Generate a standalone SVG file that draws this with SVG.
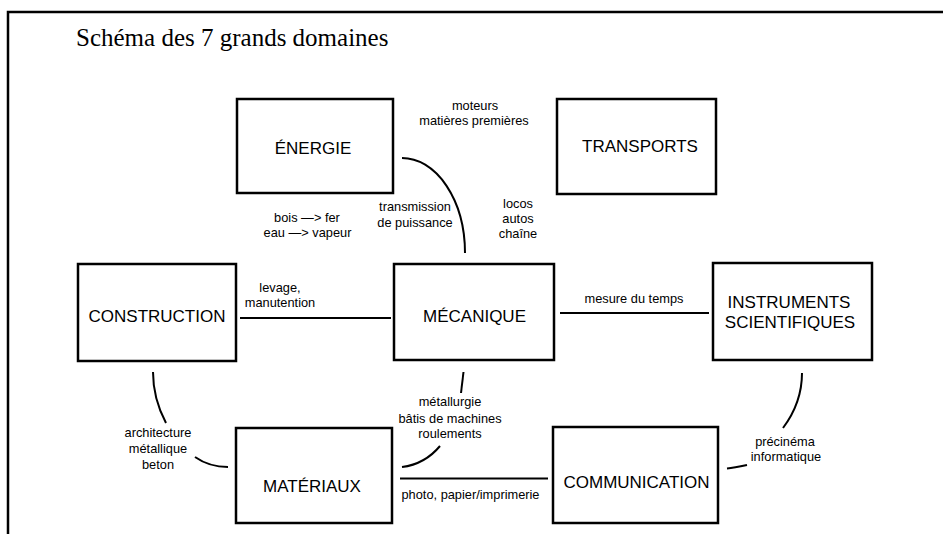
<svg xmlns="http://www.w3.org/2000/svg" width="943" height="534" viewBox="0 0 943 534">
<style>
.box{fill:#fff;stroke:#000;stroke-width:2.5}
.bl{font-family:"Liberation Sans",Arial,sans-serif;font-size:17px;text-anchor:middle;fill:#000}
.lb{font-family:"Liberation Sans",Arial,sans-serif;font-size:12.8px;text-anchor:middle;fill:#000}
.cn{fill:none;stroke:#000;stroke-width:2}
</style>
<rect width="943" height="534" fill="#fff"/>
<path d="M943,12 H8 V534" fill="none" stroke="#000" stroke-width="2.5"/>
<text x="76" y="46" font-family="'Liberation Serif','Times New Roman',serif" font-size="25">Schéma  des 7 grands domaines</text>
<g id="connectors">
<path class="cn" d="M402,158 A63,95 0 0 1 465,253"/>
<path class="cn" d="M240,318 H391"/>
<path class="cn" d="M560,313 H709"/>
<path class="cn" d="M463.5,372 L461,393"/>
<path class="cn" d="M440,446 C430,458 418,465 402,467"/>
<path class="cn" d="M153,372 C153,392 158,408 166,423"/>
<path class="cn" d="M195,457 C205,464 216,467 228,467"/>
<path class="cn" d="M400,478.5 H548"/>
<path class="cn" d="M802,373 C802,395 795,412 783,428"/>
<path class="cn" d="M747,465 C738,467 733,468 727,468.5"/>
</g>
<g id="labels">
<text class="lb" x="475" y="110">moteurs</text>
<text class="lb" x="474" y="125">matières premières</text>
<text class="lb" x="307" y="222">bois —&gt; fer</text>
<text class="lb" x="307.5" y="237">eau —&gt; vapeur</text>
<text class="lb" x="415" y="211">transmission</text>
<text class="lb" x="415" y="227">de puissance</text>
<text class="lb" x="518" y="208">locos</text>
<text class="lb" x="518" y="223">autos</text>
<text class="lb" x="518" y="238">chaîne</text>
<text class="lb" x="280" y="292">levage,</text>
<text class="lb" x="280" y="307">manutention</text>
<text class="lb" x="634" y="303">mesure du temps</text>
<text class="lb" x="450" y="406">métallurgie</text>
<text class="lb" x="450" y="422.5">bâtis de machines</text>
<text class="lb" x="450" y="438">roulements</text>
<text class="lb" x="158" y="437">architecture</text>
<text class="lb" x="158" y="453">métallique</text>
<text class="lb" x="158" y="469">beton</text>
<text class="lb" x="470.5" y="499">photo, papier/imprimerie</text>
<text class="lb" x="785" y="446">précinéma</text>
<text class="lb" x="786" y="461">informatique</text>
</g>
<g id="energie"><rect class="box" x="237" y="99" width="156" height="94"/><text class="bl" x="313" y="154">ÉNERGIE</text></g>
<g id="transports"><rect class="box" x="557" y="99" width="159" height="95"/><text class="bl" x="640" y="152">TRANSPORTS</text></g>
<g id="construction"><rect class="box" x="78" y="264" width="158" height="97"/><text class="bl" x="157" y="322">CONSTRUCTION</text></g>
<g id="mecanique"><rect class="box" x="394" y="264" width="160" height="96"/><text class="bl" x="474.5" y="322">MÉCANIQUE</text></g>
<g id="instruments"><rect class="box" x="713" y="263" width="159" height="97"/><text class="bl" x="789" y="308">INSTRUMENTS</text><text class="bl" x="790" y="328">SCIENTIFIQUES</text></g>
<g id="materiaux"><rect class="box" x="236" y="428" width="156" height="95"/><text class="bl" x="312" y="492">MATÉRIAUX</text></g>
<g id="communication"><rect class="box" x="553" y="427" width="165" height="96"/><text class="bl" x="636.5" y="488">COMMUNICATION</text></g>
</svg>
